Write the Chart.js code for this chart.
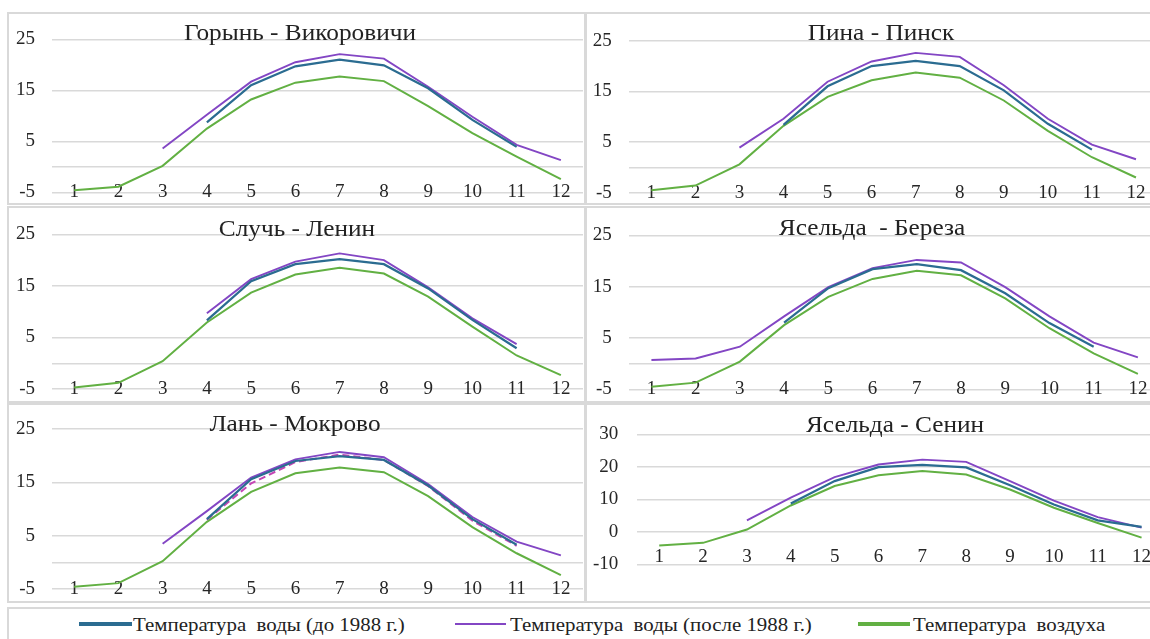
<!DOCTYPE html>
<html>
<head>
<meta charset="utf-8">
<script src="https://cdn.jsdelivr.net/npm/chart.js@4.4.1/dist/chart.umd.min.js"></script>
<style>
  html, body { margin: 0; padding: 0; background: #fff; overflow: hidden; width: 1150px; height: 639px; }
  .frame { position: absolute; border: 2px solid #d9d9d9; box-sizing: border-box; }
  canvas { position: absolute; }
  .title { position: absolute; font-family: 'Liberation Serif', 'Times New Roman', serif; font-size: 23px;
           line-height: 1; color: #222; white-space: pre; transform: translateX(-50%) scaleX(1.1); }
  .lg-line { position: absolute; }
  .lg-text { position: absolute; font-family: 'Liberation Serif', 'Times New Roman', serif; font-size: 19px;
             line-height: 1; color: #222; white-space: pre; transform-origin: 0 50%; transform: scaleX(1.1); }
</style>
</head>
<body>
<script>
// Months of the year
const months = ['1', '2', '3', '4', '5', '6', '7', '8', '9', '10', '11', '12'];

// Y-axis ticks
const yTicksSmall = [-5, 0, 5, 15, 25];
const yTicksWide = [-10, 0, 10, 20, 30];

// Горынь - Викоровичи
const gorynBefore = [null, null, null, 8.7, 16.0, 19.7, 21.0, 19.9, 15.4, 9.2, 3.9, null];
const gorynAfter  = [null, null, 3.6, 10.2, 16.7, 20.5, 22.1, 21.2, 15.7, 9.8, 4.3, 1.3];
const gorynAir    = [-4.6, -3.9, 0.2, 7.5, 13.2, 16.5, 17.7, 16.8, 11.9, 6.6, 2.0, -2.4];

// Пина - Пинск
const pinaBefore = [null, null, null, 8.4, 16.0, 20.0, 21.0, 20.0, 15.2, 8.6, 3.5, null];
const pinaAfter  = [null, null, 3.9, 9.6, 16.9, 20.9, 22.6, 21.8, 16.2, 9.6, 4.5, 1.6];
const pinaAir    = [-4.5, -3.6, 0.6, 8.2, 13.9, 17.2, 18.7, 17.7, 13.2, 7.2, 2.0, -2.0];

// Случь - Ленин
const sluchBefore = [null, null, null, 8.3, 15.9, 19.2, 20.2, 19.2, 14.5, 8.4, 2.9, null];
const sluchAfter  = [null, null, null, 9.7, 16.3, 19.7, 21.3, 20.0, 14.7, 8.7, 3.7, null];
const sluchAir    = [-4.7, -3.8, 0.4, 7.9, 13.7, 17.2, 18.5, 17.4, 12.9, 7.1, 1.5, -2.3];

// Ясельда - Береза
const berezaBefore = [null, null, null, 8.0, 14.7, 18.4, 19.4, 18.2, 13.7, 7.9, 3.3, null];
const berezaAfter  = [0.7, 1.0, 3.3, 9.2, 14.9, 18.6, 20.2, 19.7, 14.9, 9.2, 4.1, 1.2];
const berezaAir    = [-4.5, -3.7, 0.4, 7.5, 13.0, 16.5, 18.1, 17.2, 12.7, 6.9, 2.0, -2.0];

// Лань - Мокрово
const lanBefore = [null, null, null, 8.1, 15.6, 19.0, 19.9, 19.2, 14.4, 8.1, 3.3, null];
const lanAfter  = [null, null, 3.5, 9.6, 15.9, 19.3, 20.7, 19.7, 14.7, 8.5, 3.9, 1.3];
const lanAir    = [-4.6, -3.9, 0.2, 7.6, 13.2, 16.7, 17.8, 16.9, 12.4, 6.6, 1.7, -2.4];
const lanExtra  = [null, null, null, 8.0, 14.8, 18.8, 20.2, 19.2, 14.3, 7.8, 3.1, null];

// Ясельда - Сенин
const seninBefore = [null, null, null, 8.7, 15.6, 19.9, 20.6, 19.8, 14.3, 8.4, 3.5, 1.5];
const seninAfter  = [null, null, 3.5, 10.5, 16.8, 20.7, 22.2, 21.5, 15.6, 9.6, 4.5, 1.3];
const seninAir    = [-4.2, -3.4, 0.7, 8.1, 14.1, 17.4, 18.7, 17.6, 13.0, 7.4, 2.7, -1.8];

const seriesNames = ['Температура  воды (до 1988 г.)', 'Температура  воды (после 1988 г.)', 'Температура  воздуха'];
const COL_BEFORE = '#2b6c91';
const COL_AFTER = '#8346c4';
const COL_AIR = '#62b043';
const COL_EXTRA = '#c445b4';
const SERIF = "'Liberation Serif', 'Times New Roman', serif";

// panel frames and plot geometry (page pixels)
const panels = [
  { title: 'Горынь - Викоровичи', tx: 300, tBase: 40, frame: [7, 12, 579, 193], canvas: [8, 12, 578, 193],
    area: [52, 583, 39.3, 192.3], yPad: 17, xOff: 0, ticks: yTicksSmall, min: -5, max: 25,
    series: [gorynBefore, gorynAfter, gorynAir] },
  { title: 'Пина - Пинск', tx: 881, tBase: 40, frame: [585, 12, 600, 193], canvas: [586, 12, 590, 193],
    area: [629.3, 1158, 40.7, 192.7], yPad: 17.5, xOff: 0, ticks: yTicksSmall, min: -5, max: 25,
    series: [pinaBefore, pinaAfter, pinaAir] },
  { title: 'Случь - Ленин', tx: 297, tBase: 236, frame: [7, 206, 579, 197], canvas: [8, 206, 578, 197],
    area: [52, 583, 234.3, 389], yPad: 17, xOff: 0, ticks: yTicksSmall, min: -5, max: 25,
    series: [sluchBefore, sluchAfter, sluchAir] },
  { title: 'Ясельда  - Береза', tx: 872, tBase: 235.5, frame: [585, 206, 600, 197], canvas: [586, 206, 590, 197],
    area: [629.3, 1160, 235.3, 389.3], yPad: 17.5, xOff: 0, ticks: yTicksSmall, min: -5, max: 25,
    series: [berezaBefore, berezaAfter, berezaAir] },
  { title: 'Лань - Мокрово', tx: 295, tBase: 431, frame: [7, 403, 579, 200], canvas: [8, 403, 578, 200],
    area: [52, 583, 429, 589], yPad: 17, xOff: 0, ticks: yTicksSmall, min: -5, max: 25,
    series: [lanBefore, lanAfter, lanAir], extra: lanExtra },
  { title: 'Ясельда - Сенин', tx: 895, tBase: 432, frame: [585, 403, 600, 200], canvas: [586, 403, 590, 200],
    area: [637.3, 1163.5, 434.3, 564.3], yPad: 19, xOff: -7.3, ticks: yTicksWide, min: -10, max: 30,
    series: [seninBefore, seninAfter, seninAir] }
];

const TICK_FONT = 19;
const TICK_LH = 1.2;

function addEl(cls, css, text) {
  const el = document.createElement('div');
  el.className = cls;
  Object.assign(el.style, css);
  if (text !== undefined) el.textContent = text;
  document.body.appendChild(el);
  return el;
}

panels.forEach((p) => {
  const [fx, fy, fw, fh] = p.frame;
  addEl('frame', { left: fx + 'px', top: fy + 'px', width: fw + 'px', height: fh + 'px' });

  const [cx, cy, cw, ch] = p.canvas;
  const cv = document.createElement('canvas');
  cv.width = cw; cv.height = ch;
  cv.style.left = cx + 'px'; cv.style.top = cy + 'px';
  cv.style.width = cw + 'px'; cv.style.height = ch + 'px';
  document.body.appendChild(cv);

  const [aL, aR, aT, aB] = p.area;
  const yWidth = aL - cx;

  const datasets = [
    { label: seriesNames[0], data: p.series[0], borderColor: COL_BEFORE, borderWidth: 2.25 },
    { label: seriesNames[1], data: p.series[1], borderColor: COL_AFTER, borderWidth: 1.9 },
    { label: seriesNames[2], data: p.series[2], borderColor: COL_AIR, borderWidth: 2 }
  ];
  if (p.extra) {
    datasets.splice(1, 0, { label: '', data: p.extra, borderColor: COL_EXTRA, borderWidth: 2, borderDash: [7, 4] });
  }
  datasets.forEach((d) => { d.pointRadius = 0; d.tension = 0; d.fill = false; d.spanGaps = false; });

  new Chart(cv, {
    type: 'line',
    data: { labels: months, datasets },
    options: {
      responsive: false,
      animation: false,
      devicePixelRatio: 1,
      layout: { padding: { left: 0, top: aT - cy, right: (cx + cw) - aR, bottom: (cy + ch) - aB } },
      plugins: { legend: { display: false }, title: { display: false }, tooltip: { enabled: false } },
      scales: {
        x: {
          type: 'category',
          offset: true,
          grid: { display: false, drawTicks: false },
          border: { display: false },
          afterFit: (s) => { s.height = 0; s.paddingLeft = 0; s.paddingRight = 0; },
          ticks: {
            // mirrored labels sit across the bottom gridline
            mirror: true,
            autoSkip: false, maxRotation: 0, minRotation: 0,
            color: '#262626',
            font: { family: SERIF, size: TICK_FONT, lineHeight: TICK_LH },
            padding: -p.xOff - TICK_FONT * TICK_LH / 2
          }
        },
        y: {
          min: p.min, max: p.max,
          afterFit: (s) => { s.width = yWidth; s.paddingTop = 0; s.paddingBottom = 0; },
          afterBuildTicks: (s) => { s.ticks = p.ticks.map((v) => ({ value: v })); },
          grid: { color: '#d9d9d9', lineWidth: 1.4, drawTicks: false },
          border: { display: false },
          ticks: {
            color: '#262626',
            font: { family: SERIF, size: TICK_FONT },
            padding: p.yPad,
            callback: (v) => (p.min === -5 && v === 0 ? '' : String(v))
          }
        }
      }
    }
  });

  // chart title, baseline placed at tBase
  addEl('title', { left: p.tx + 'px', top: (p.tBase - 0.8375 * 23) + 'px' }, p.title);
});

// shared legend
addEl('frame', { left: '7px', top: '607px', width: '1150px', height: '40px' });
const legendItems = [
  { x: 79, w: 53, h: 3.5, color: COL_BEFORE, tx: 133 },
  { x: 455, w: 51, h: 2, color: COL_AFTER, tx: 510 },
  { x: 858, w: 52, h: 3.5, color: COL_AIR, tx: 913 }
];
legendItems.forEach((it, i) => {
  addEl('lg-line', { left: it.x + 'px', top: (624 - it.h / 2) + 'px', width: it.w + 'px', height: it.h + 'px', background: it.color });
  addEl('lg-text', { left: it.tx + 'px', top: (630.5 - 0.8375 * 19) + 'px' }, seriesNames[i]);
});
</script>
</body>
</html>
